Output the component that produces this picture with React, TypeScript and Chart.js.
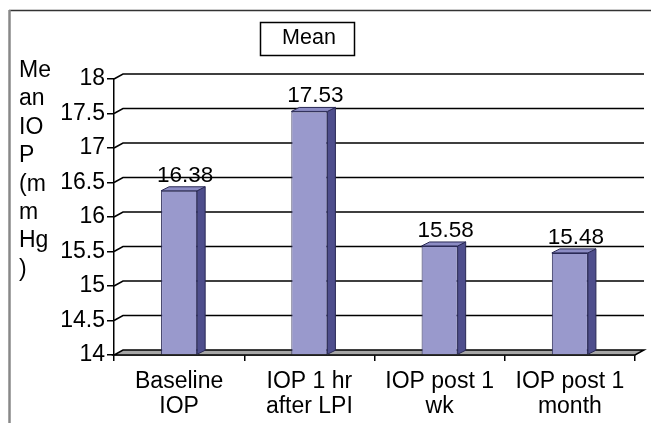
import React, { useEffect, useRef } from "react";
import { Chart, registerables } from "chart.js";

Chart.register(...registerables);

// ---- data ----
const categories: string[][] = [
  ["Baseline", "IOP"],
  ["IOP 1 hr", "after LPI"],
  ["IOP post 1", "wk"],
  ["IOP post 1", "month"],
];
const meanValues: number[] = [16.38, 17.53, 15.58, 15.48];
const seriesName = "Mean";
const yTitleLines: string[] = ["Me", "an", "IO", "P", "(m", "m", "Hg", ")"];
const yMin = 14;
const yMax = 18;
const yStep = 0.5;

// ---- style ----
const FONT = '"Liberation Sans", Arial, Helvetica, sans-serif';
const DX = 9; // wall depth x
const DY = 5; // wall depth y
const BDX = 8; // bar depth x
const BDY = 4; // bar depth y
const FRONT = "#9999CC";
const SIDE = "#4E4E8C";
const TOP = "#8C8CC4";
const EDGE = "#2a2a55";

const threeD = {
  id: "threeD",
  beforeDraw(chart: any) {
    const ctx = chart.ctx;
    ctx.save();
    ctx.fillStyle = "#ffffff";
    ctx.fillRect(0, 0, chart.width, chart.height);
    ctx.restore();
  },
  beforeDatasetsDraw(chart: any) {
    const ctx = chart.ctx;
    const { left, right } = chart.chartArea;
    const ys = chart.scales.y;
    ctx.save();
    ctx.strokeStyle = "#000";
    ctx.lineWidth = 1.5;
    ys.ticks.forEach((t: any) => {
      const y = ys.getPixelForValue(t.value);
      if (t.value === yMin) {
        ctx.beginPath();
        ctx.moveTo(left, y);
        ctx.lineTo(right, y);
        ctx.lineTo(right + DX, y - DY);
        ctx.lineTo(left + DX, y - DY);
        ctx.closePath();
        ctx.fillStyle = "#A6A6A6";
        ctx.fill();
        ctx.stroke();
      } else {
        ctx.beginPath();
        ctx.moveTo(left, y);
        ctx.lineTo(left + DX, y - DY);
        ctx.lineTo(right + DX, y - DY);
        ctx.stroke();
      }
    });
    ctx.restore();
  },
  afterDatasetsDraw(chart: any) {
    const ctx = chart.ctx;
    const meta = chart.getDatasetMeta(0);
    ctx.save();
    ctx.lineWidth = 1;
    ctx.strokeStyle = EDGE;
    meta.data.forEach((bar: any, i: number) => {
      const { x, y, width, base } = bar.getProps(["x", "y", "width", "base"], true);
      const l = x - width / 2;
      const r = x + width / 2;
      ctx.beginPath();
      ctx.moveTo(r, y);
      ctx.lineTo(r + BDX, y - BDY);
      ctx.lineTo(r + BDX, base - BDY);
      ctx.lineTo(r, base);
      ctx.closePath();
      ctx.fillStyle = SIDE;
      ctx.fill();
      ctx.stroke();
      ctx.beginPath();
      ctx.moveTo(l, y);
      ctx.lineTo(l + BDX, y - BDY);
      ctx.lineTo(r + BDX, y - BDY);
      ctx.lineTo(r, y);
      ctx.closePath();
      ctx.fillStyle = TOP;
      ctx.fill();
      ctx.stroke();
      ctx.fillStyle = "#000";
      ctx.font = `22.5px ${FONT}`;
      ctx.textAlign = "center";
      ctx.textBaseline = "alphabetic";
      ctx.fillText(meanValues[i].toFixed(2), x + 6, y - BDY - 5);
    });
    ctx.restore();
  },
  afterDraw(chart: any) {
    const ctx = chart.ctx;
    ctx.save();
    ctx.strokeStyle = "#333";
    ctx.lineWidth = 1.5;
    ctx.beginPath();
    ctx.moveTo(9, 10.5);
    ctx.lineTo(chart.width, 10.5);
    ctx.stroke();
    ctx.strokeStyle = "#888";
    ctx.lineWidth = 2.5;
    ctx.beginPath();
    ctx.moveTo(9.5, 10);
    ctx.lineTo(9.5, chart.height);
    ctx.stroke();

    ctx.fillStyle = "#fff";
    ctx.fillRect(260.5, 22.5, 94, 33);
    ctx.strokeStyle = "#000";
    ctx.lineWidth = 1.5;
    ctx.strokeRect(260.5, 22.5, 94, 33);
    ctx.fillStyle = "#000";
    ctx.font = `21.5px ${FONT}`;
    ctx.textAlign = "center";
    ctx.textBaseline = "alphabetic";
    ctx.fillText(seriesName, 309, 44);

    ctx.font = `23px ${FONT}`;
    ctx.textAlign = "left";
    yTitleLines.forEach((s, i) => {
      ctx.fillText(s, 19, 77 + i * 28.4);
    });
    ctx.restore();
  },
};

export default function App() {
  const ref = useRef<HTMLCanvasElement | null>(null);
  useEffect(() => {
    if (!ref.current) return;
    const chart = new Chart(ref.current, {
      type: "bar",
      data: {
        labels: categories,
        datasets: [
          {
            label: seriesName,
            data: meanValues,
            backgroundColor: FRONT,
            borderColor: EDGE,
            borderWidth: 1,
            categoryPercentage: 1,
            barPercentage: 0.277,
            base: yMin,
          },
        ],
      },
      options: {
        responsive: false,
        animation: false,
        events: [],
        layout: { padding: { left: 0, top: 79, right: 16, bottom: 0 } },
        plugins: {
          legend: { display: false },
          tooltip: { enabled: false },
          title: { display: false },
        },
        scales: {
          x: {
            offset: true,
            grid: {
              display: true,
              offset: true,
              drawOnChartArea: false,
              drawTicks: true,
              tickLength: 6,
              color: "#000",
              lineWidth: 1.5,
            },
            border: { display: true, color: "#000", width: 1.5 },
            ticks: {
              color: "#000",
              font: { family: FONT, size: 23, lineHeight: 1.1 },
              padding: 8,
              maxRotation: 0,
              autoSkip: false,
            },
            afterFit: (s: any) => {
              s.height = 68;
            },
          },
          y: {
            min: yMin,
            max: yMax,
            grid: {
              display: true,
              drawOnChartArea: false,
              drawTicks: true,
              tickLength: 7,
              color: "#000",
              lineWidth: 1.5,
            },
            border: { display: true, color: "#000", width: 1.5 },
            ticks: {
              stepSize: yStep,
              color: "#000",
              font: { family: FONT, size: 23 },
              padding: 2,
              callback: (v: any) => String(Number(v)),
            },
            afterFit: (s: any) => {
              s.width = 114;
            },
          },
        },
      },
      plugins: [threeD],
    });
    return () => chart.destroy();
  }, []);
  return (
    <div style={{ position: "fixed", left: 0, top: 0, width: 651, height: 423, background: "#fff" }}>
      <canvas ref={ref} width={651} height={423} style={{ display: "block" }} />
    </div>
  );
}
